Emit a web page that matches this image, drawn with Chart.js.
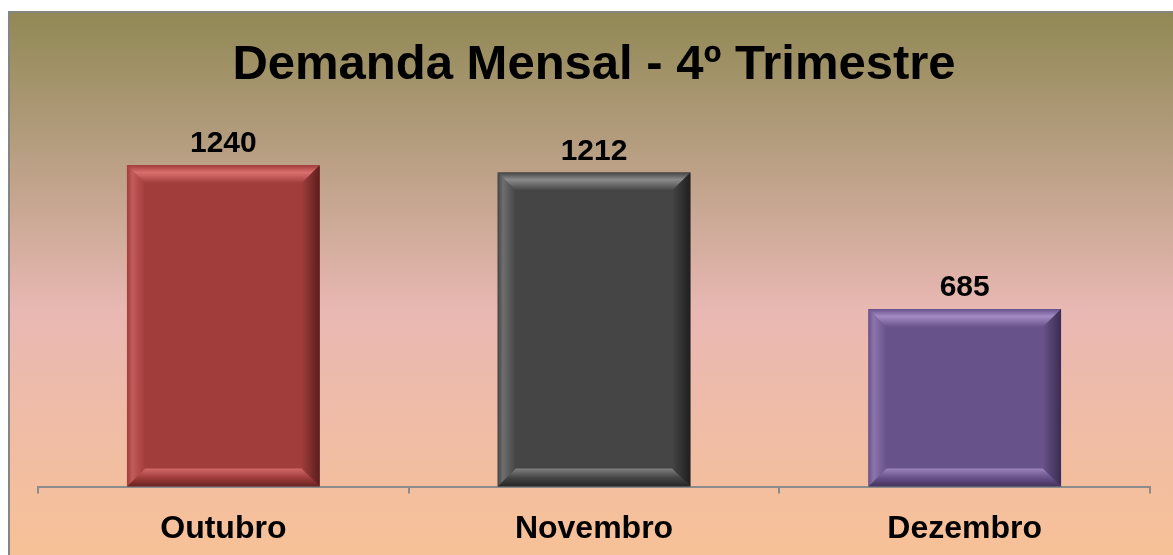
<!DOCTYPE html>
<html>
<head>
<meta charset="utf-8">
<script src="https://cdn.jsdelivr.net/npm/chart.js@4"></script>
<style>
  html, body { margin: 0; padding: 0; background: #fff; overflow: hidden; }
  #wrap { width: 1173px; height: 576px; position: relative; }
</style>
</head>
<body>
<div id="wrap"><canvas id="demanda"></canvas></div>
<script>
const meses = ['Outubro', 'Novembro', 'Dezembro'];
const demanda = [1240, 1212, 685];
const corFace = ['#a13d3b', '#454545', '#68528a'];
const corClara = ['#d9706e', '#8a8a8a', '#a48bc4'];
const corEscura = ['#5a1e1d', '#1f1f1f', '#3a2c52'];

const ctx = document.getElementById('demanda');

// fundo em degrade + borda
const fundo = {
    id: 'fundo',
    beforeDraw(chart) {
        const c = chart.ctx;
        const w = chart.width, h = 555;
        c.save();
        c.fillStyle = '#ffffff';
        c.fillRect(0, 0, w, chart.height);
        const g = c.createLinearGradient(0, 13, 0, h);
        g.addColorStop(0, '#918955');
        g.addColorStop(0.22, '#b19b7b');
        g.addColorStop(0.55, '#e9b8b3');
        g.addColorStop(1, '#f7c197');
        c.fillStyle = g;
        c.fillRect(9, 12, w - 9, chart.height - 12);
        c.strokeStyle = '#858585';
        c.lineWidth = 2;
        c.beginPath();
        c.moveTo(9, chart.height);
        c.lineTo(9, 12);
        c.lineTo(w, 12);
        c.stroke();
        c.restore();
    }
};

// chanfro nas barras + rotulos
const chanfro = {
    id: 'chanfro',
    afterDatasetsDraw(chart) {
        const c = chart.ctx;
        const meta = chart.getDatasetMeta(0);
        meta.data.forEach((bar, i) => {
            const x0 = bar.x - bar.width / 2, x1 = bar.x + bar.width / 2;
            const y0 = bar.y, y1 = bar.base;
            const b = 18;
            c.save();
            // topo
            let g = c.createLinearGradient(0, y0, 0, y0 + b);
            g.addColorStop(0, corFace[i]);
            g.addColorStop(0.4, corClara[i]);
            g.addColorStop(1, corFace[i]);
            c.fillStyle = g;
            c.beginPath();
            c.moveTo(x0, y0); c.lineTo(x1, y0); c.lineTo(x1 - b, y0 + b); c.lineTo(x0 + b, y0 + b);
            c.closePath(); c.fill();
            // base
            g = c.createLinearGradient(0, y1 - b, 0, y1);
            g.addColorStop(0, corClara[i]);
            g.addColorStop(0.5, corFace[i]);
            g.addColorStop(1, corEscura[i]);
            c.fillStyle = g;
            c.globalAlpha = 0.85;
            c.beginPath();
            c.moveTo(x0, y1); c.lineTo(x1, y1); c.lineTo(x1 - b, y1 - b); c.lineTo(x0 + b, y1 - b);
            c.closePath(); c.fill();
            c.globalAlpha = 1;
            // esquerda
            g = c.createLinearGradient(x0, 0, x0 + b, 0);
            g.addColorStop(0, corFace[i]);
            g.addColorStop(0.3, corClara[i]);
            g.addColorStop(1, corFace[i]);
            c.fillStyle = g;
            c.globalAlpha = 0.6;
            c.beginPath();
            c.moveTo(x0, y0); c.lineTo(x0 + b, y0 + b); c.lineTo(x0 + b, y1 - b); c.lineTo(x0, y1);
            c.closePath(); c.fill();
            c.globalAlpha = 1;
            // direita
            g = c.createLinearGradient(x1 - b, 0, x1, 0);
            g.addColorStop(0, corFace[i]);
            g.addColorStop(1, corEscura[i]);
            c.fillStyle = g;
            c.beginPath();
            c.moveTo(x1, y0); c.lineTo(x1 - b, y0 + b); c.lineTo(x1 - b, y1 - b); c.lineTo(x1, y1);
            c.closePath(); c.fill();
            // rotulo
            c.fillStyle = '#000';
            c.font = 'bold 30px "Liberation Sans"';
            c.textAlign = 'center';
            c.textBaseline = 'alphabetic';
            c.fillText(String(demanda[i]), bar.x, y0 - 13);
            c.restore();
        });
    }
};

new Chart(ctx, {
    type: 'bar',
    data: {
        labels: meses,
        datasets: [{
            data: demanda,
            backgroundColor: corFace,
            borderWidth: 0,
            categoryPercentage: 1,
            barPercentage: 0.52
        }]
    },
    options: {
        responsive: true,
        maintainAspectRatio: false,
        animation: false,
        layout: { padding: { top: 12, left: 38, right: 23, bottom: 12 } },
        plugins: {
            legend: { display: false },
            tooltip: { enabled: false },
            title: {
                display: true,
                text: 'Demanda Mensal - 4º Trimestre',
                color: '#000',
                font: { family: 'Liberation Sans', size: 49, weight: 'bold' },
                padding: { top: 24, bottom: 29 }
            }
        },
        scales: {
            y: { display: false, min: 0, max: 1400 },
            x: {
                offset: true,
                border: { display: true, color: '#8c8c8c', width: 2 },
                grid: { offset: true, drawOnChartArea: false, tickLength: 7, color: '#8c8c8c', lineWidth: 2 },
                ticks: { color: '#000', padding: 16, font: { family: 'Liberation Sans', size: 32, weight: 'bold' } }
            }
        }
    },
    plugins: [fundo, chanfro]
});
</script>
</body>
</html>
